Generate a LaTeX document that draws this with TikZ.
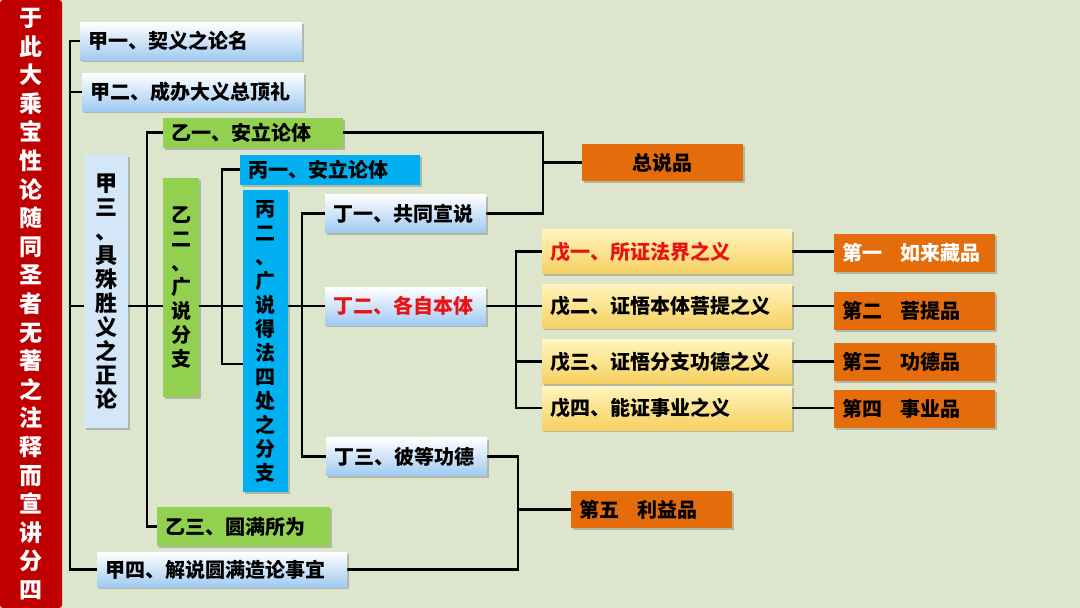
\documentclass[tikz,border=0pt]{standalone}
\usepackage{fontspec}
\setmainfont{Noto Sans CJK SC}
\usetikzlibrary{shadows,positioning}
\definecolor{bgSage}{RGB}{221,229,205}
\definecolor{titleRed}{RGB}{192,0,0}
\definecolor{leafGreen}{RGB}{146,208,80}
\definecolor{skyCyan}{RGB}{0,176,240}
\definecolor{pinOrange}{RGB}{228,108,10}
\definecolor{paleBlue}{RGB}{160,202,242}
\definecolor{paleYellow}{RGB}{255,245,190}
\definecolor{goldYellow}{RGB}{246,208,96}
\definecolor{markRed}{RGB}{232,20,20}
\pgfdeclarelayer{paper}
\pgfdeclarelayer{lines}
\pgfsetlayers{paper,lines,main}

\begin{document}
\begin{tikzpicture}[x=1pt,y=-1pt,
  every node/.style={font=\bfseries\fontsize{20}{22}\selectfont,inner xsep=8pt,inner ysep=0pt,anchor=west},
  conn/.style={line width=2.6pt,black},
  shade/.style={drop shadow={shadow xshift=2pt,shadow yshift=-2pt,opacity=.3,fill=black!70}},
  lbox/.style={shade,top color=white,bottom color=paleBlue,minimum height=38pt},
  gbox/.style={shade,fill=leafGreen,minimum height=30pt},
  cbox/.style={shade,fill=skyCyan,minimum height=30pt},
  ybox/.style={shade,top color=paleYellow,bottom color=goldYellow,minimum height=44pt,text width=234pt},
  obox/.style={shade,fill=pinOrange,minimum height=38pt,text width=145pt},
  vbox/.style={shade,anchor=center,align=center,inner xsep=0pt,font=\bfseries\fontsize{20}{24}\selectfont}
]
\useasboundingbox (0,0) rectangle (1080,608);
\begin{pgfonlayer}{paper}
\fill[bgSage] (0,0) rectangle (1080,608);
\end{pgfonlayer}

% title bar
\node[anchor=center,fill=titleRed,rounded corners=3pt,minimum width=62pt,minimum height=608pt,
  inner xsep=0pt,text=white,align=center,font=\bfseries\fontsize{23}{28.6}\selectfont] (title) at (31,304)
  {于\\此\\大\\乘\\宝\\性\\论\\随\\同\\圣\\者\\无\\著\\之\\注\\释\\而\\宣\\讲\\分\\四};

% spines
\coordinate (sJ) at (70,0);
\coordinate (sY) at (147,0);
\coordinate (sB) at (222,0);
\coordinate (sD) at (302,0);
\coordinate (sW) at (516,0);
\coordinate (sZ) at (543,0);
\coordinate (sL) at (518,0);
\coordinate (bIn) at (243,364);

% level jia
\node[lbox,text width=206pt] (jia1) at (80,41) {甲一、契义之论名};
\node[lbox,text width=206pt] (jia2) at (82,92) {甲二、成办大义总顶礼};
\node[vbox,fill=paleBlue!45!white,minimum width=44pt,minimum height=273pt,
  font=\bfseries\fontsize{22}{24}\selectfont] (jia3) at (106,291.5)
  {甲\\三\\、\\具\\殊\\胜\\义\\之\\正\\论};
\node[lbox,text width=234pt,minimum height=35pt] (jia4) at (97,569.5) {甲四、解说圆满造论事宜};

% level yi
\node[gbox,text width=164pt] (yi1) at (163,132.5) {乙一、安立论体};
\node[vbox,fill=leafGreen,minimum width=36pt,minimum height=219pt] (yi2) at (181,287.5)
  {乙\\二\\、\\广\\说\\分\\支};
\node[gbox,text width=157pt,minimum height=39pt] (yi3) at (157,526.5) {乙三、圆满所为};

% level bing
\node[cbox,text width=164pt] (bing1) at (240,169.5) {丙一、安立论体};
\node[vbox,fill=skyCyan,minimum width=45pt,minimum height=302pt] (bing2) at (265.5,341)
  {丙\\二\\、\\广\\说\\得\\法\\四\\处\\之\\分\\支};

% level ding
\node[lbox,text width=145pt] (ding1) at (325,213.5) {丁一、共同宣说};
\node[lbox,text width=145pt,text=markRed] (ding2) at (325,306) {丁二、各自本体};
\node[lbox,text width=145pt] (ding3) at (326,456.5) {丁三、彼等功德};

% level wu and the chapters
\foreach \wt/\dt/\wy/\dy/\wc/\dc [count=\i] in {
  戊一、所证法界之义/第一\hspace{.9em}如来藏品/251.5/252.5/markRed/white,
  戊二、证悟本体菩提之义/第二\hspace{.9em}菩提品/306/311/black/black,
  戊三、证悟分支功德之义/第三\hspace{.9em}功德品/361.5/361.5/black/black,
  戊四、能证事业之义/第四\hspace{.9em}事业品/408/409/black/black}
{
  \node[ybox,text=\wc] (wu\i) at (542,\wy) {\wt};
  \node[obox,text=\dc] (di\i) at (834,\dy) {\dt};
}
\node[obox,align=center,minimum height=37pt] (zong) at (582,162.5) {总说品};
\node[obox,minimum height=37pt] (li) at (571,509.5) {第五\hspace{.9em}利益品};

% connectors
\begin{pgfonlayer}{lines}
\draw[conn] (sJ |- ding2.west) -- (wu2.west);
\draw[conn] (jia1.west) -- (jia1.west -| sJ) -- (jia4.west -| sJ) -- (jia4.west);
\draw[conn] (jia2.west) -- (jia2.west -| sJ);
\draw[conn] (yi1.west) -- (yi1.west -| sY) -- (yi3.west -| sY) -- (yi3.west);
\draw[conn] (bing1.west) -- (bing1.west -| sB) -- (sB |- bIn) -- (bIn);
\draw[conn] (ding1.west) -- (ding1.west -| sD) -- (ding3.west -| sD) -- (ding3.west);
\draw[conn] (wu1.west) -- (wu1.west -| sW) -- (wu4.west -| sW) -- (wu4.west);
\draw[conn] (wu3.west) -- (wu3.west -| sW);
\foreach \i in {1,...,4} \draw[conn] (wu\i.east) -- (wu\i.east -| di\i.west);
\draw[conn] (yi1.east) -- (yi1.east -| sZ) -- (ding1.east -| sZ) -- (ding1.east);
\draw[conn] (zong.west -| sZ) -- (zong.west);
\draw[conn] (ding3.east) -- (ding3.east -| sL) -- (jia4.east -| sL) -- (jia4.east);
\draw[conn] (li.west -| sL) -- (li.west);
\end{pgfonlayer}
\end{tikzpicture}
\end{document}
